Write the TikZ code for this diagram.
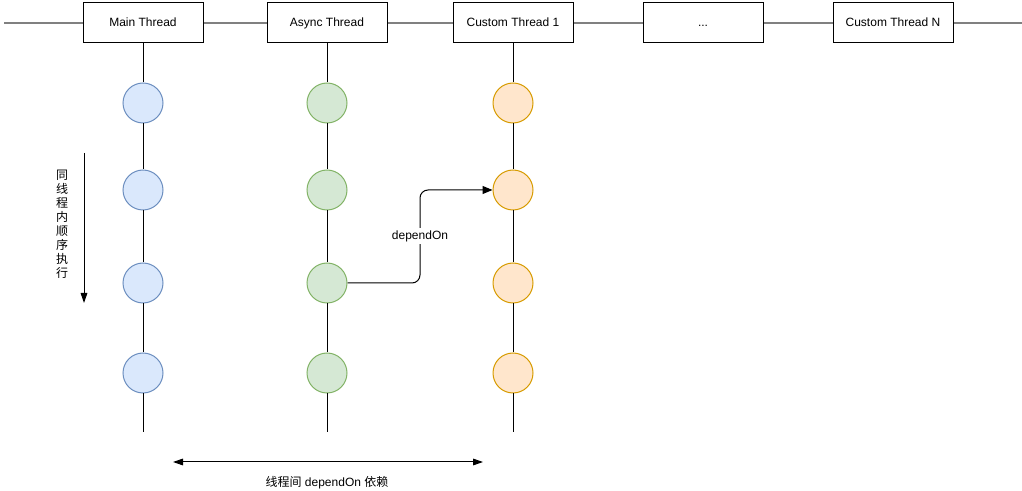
\documentclass[tikz,border=0pt]{standalone}
\usepackage{fontspec}
\setmainfont{Liberation Sans}
\newfontfamily\cjk{Noto Sans CJK SC}
\usetikzlibrary{arrows.meta}

\definecolor{blueFill}{RGB}{218,232,252}
\definecolor{blueLine}{RGB}{108,142,191}
\definecolor{greenFill}{RGB}{213,232,212}
\definecolor{greenLine}{RGB}{130,179,102}
\definecolor{orangeFill}{RGB}{255,230,204}
\definecolor{orangeLine}{RGB}{215,155,0}
\definecolor{axisGray}{RGB}{128,128,128}

\tikzset{every picture/.style={line width=0.75pt}}
\tikzset{
  threadbox/.style={draw, fill=white, minimum width=90pt, minimum height=30pt, inner sep=0.75pt, text height=6.5pt, text depth=1.8pt, font=\fontsize{9}{11}\selectfont},
  mainstep/.style={circle, draw=blueLine, fill=blueFill, minimum size=30pt, inner sep=0pt},
  asyncstep/.style={circle, draw=greenLine, fill=greenFill, minimum size=30pt, inner sep=0pt},
  customstep/.style={circle, draw=orangeLine, fill=orangeFill, minimum size=30pt, inner sep=0pt},
  label/.style={inner sep=0.75pt, font=\fontsize{9}{11}\selectfont}
}

\begin{document}
\begin{tikzpicture}[x=0.75pt,y=0.75pt,yscale=-1,xscale=1]
\useasboundingbox (0,0) rectangle (1022,491);

%Straight Lines: time axis
\draw [axisGray, line width=1.5pt] (4,23) -- (1022,23) ;

% Thread boxes
\node [threadbox] (main) at (143,23) {Main Thread};
\node [threadbox] (async) at (327,23) {Async Thread};
\node [threadbox] (custom1) at (513,23) {Custom Thread 1};
\node [threadbox] (dots) at (703,23) {...};
\node [threadbox] (customN) at (893,23) {Custom Thread N};

% Main thread steps
\node [mainstep] (m1) at (143,103) {};
\node [mainstep] (m2) at (143,190) {};
\node [mainstep] (m3) at (143,283) {};
\node [mainstep] (m4) at (143,373) {};
\coordinate (mEnd) at (143,432);

% Async thread steps
\node [asyncstep] (a1) at (327,103) {};
\node [asyncstep] (a2) at (327,190) {};
\node [asyncstep] (a3) at (327,283) {};
\node [asyncstep] (a4) at (327,373) {};
\coordinate (aEnd) at (327,432);

% Custom thread 1 steps
\node [customstep] (c1) at (513,103) {};
\node [customstep] (c2) at (513,190) {};
\node [customstep] (c3) at (513,283) {};
\node [customstep] (c4) at (513,373) {};
\coordinate (cEnd) at (513,432);

%Straight Lines: lifelines
\draw (main) -- (m1) -- (m2) -- (m3) -- (m4) -- (mEnd) ;
\draw (async) -- (a1) -- (a2) -- (a3) -- (a4) -- (aEnd) ;
\draw (custom1) -- (c1) -- (c2) -- (c3) -- (c4) -- (cEnd) ;

%Connector: dependOn
\draw [-{Triangle[length=7.5pt,width=6pt]}, rounded corners=6pt] (a3.east) -- (420,283) -- (420,190) -- (c2.west) ;
% Text Node
\node [label, fill=white, inner sep=2pt] (depLabel) at (420,236) {dependOn};

%Straight Lines: order within one thread
\coordinate (orderTop) at (84,153);
\coordinate (orderEnd) at (84,303);
\draw [-{Triangle[length=7.5pt,width=5pt]}] (orderTop) -- (orderEnd) ;
% Text Node
\node [label, align=center, font=\cjk\fontsize{9}{10.5}\selectfont] (orderLabel) at (62,224) {同\\线\\程\\内\\顺\\序\\执\\行};

%Straight Lines: between threads
\coordinate (crossLeft) at (173,462);
\coordinate (crossRight) at (483,462);
\draw [{Triangle[length=7.5pt,width=5pt]}-{Triangle[length=7.5pt,width=5pt]}] (crossLeft) -- (crossRight) ;
% Text Node
\node [label] (crossLabel) at (327,483) {{\cjk 线程间} dependOn {\cjk 依赖}};

\end{tikzpicture}
\end{document}
